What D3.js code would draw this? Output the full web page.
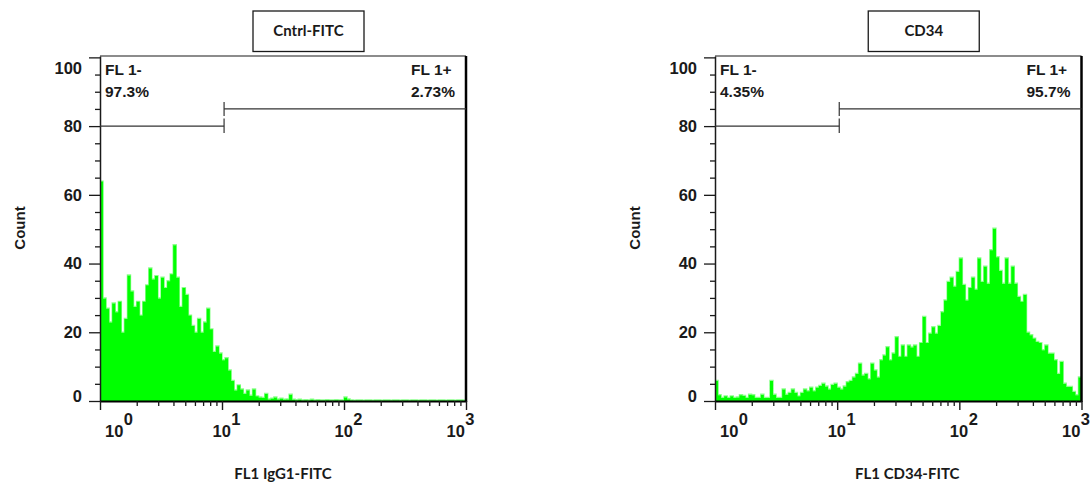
<!DOCTYPE html>
<html><head><meta charset="utf-8">
<script src="https://cdn.jsdelivr.net/npm/d3@7/dist/d3.min.js"></script>
<style>body{margin:0;background:#fff}svg{display:block}</style>
</head><body>
<svg id="c" width="1091" height="486"></svg>
<script>
// ---------- data ----------
const panelTitles = ["Cntrl-FITC", "CD34"];
const xAxisTitles = ["FL1 IgG1-FITC", "FL1 CD34-FITC"];
const yAxisTitle = "Count";
const xTickValues = [1, 10, 100, 1000];
const xTickExponents = ["0", "1", "2", "3"];
const yTickValues = [0, 20, 40, 60, 80, 100];
const gateNames = ["FL 1-", "FL 1+"];
const gateNegPercent = ["97.3%", "4.35%"];
const gatePosPercent = ["2.73%", "95.7%"];
const gateBoundary = 10.4;
const gateNegLevel = 80;
const gatePosLevel = 85;

// 120 log-spaced channels across 10^0 .. 10^3
const ctrlCounts = [
  64,30,27,23,28.5,26,29,20,24,36.7,
  32,27.5,29,25,29,33.8,38.7,35.5,36.5,30,
  36,33,35,37,45.5,36,27.5,33,31,25,
  22,20,24,20,23,27,21,14.4,16,14,
  12,12.6,9,6,3.2,4.7,3.5,2.2,3.2,1.7,
  3.5,1.5,1.2,1,2.2,0.6,0.8,1.2,0.6,0.8,
  0.5,0.6,2,0.5,0.4,0.5,0.3,0.4,0.3,0.5,
  0.3,0.4,0.3,0.3,0.4,0.3,0.3,0.4,0.3,0.3,
  1.2,0.6,0.3,0.2,0.3,0.3,0.2,0.3,0.3,0.2,
  0.3,0.3,0.2,0.3,0.3,0.2,0.3,0.3,0.2,0.3,
  0.3,0.2,0.3,0.3,0.2,0.3,0.3,0.2,0.3,0.3,
  0.2,0.3,0.3,0.2,0.3,0.3,0.2,0.3,0.3,0.2
];
const cd34Counts = [
  6,1.8,1,1.5,1,1.5,1,1.2,1.8,1.6,
  1,2,1.8,1,1,2,1,1,6,2,
  1,1,3.5,2,2.5,3.5,2.5,1.5,2.5,3.5,
  3,4,3,4,4.5,5.2,4.4,3.5,4.8,5.2,
  4,3.5,4.4,5.6,6,7,8,11,7.6,8,
  6.5,11,9,7,12,13.4,15.8,12,14,18.7,
  13,16.3,13,16.3,15.7,16.3,13,17,24.6,17,
  19.7,21.6,19.7,22,26,29.4,34.8,36,33.4,37.7,
  41.6,33.9,29.4,33,36,32.5,41.6,34.8,39.2,34.3,
  44,50.3,42,38,34.3,41.6,34.3,39.2,34.3,30.4,
  29,31,20,19.3,18.3,17.3,17,14.9,16.3,13.9,
  13.9,12,8,11.5,5.2,4.2,4.2,2.8,1.8,7
];
const panelCounts = [ctrlCounts, cd34Counts];

// ---------- layout ----------
const layout = [
  {left: 100, right: 466, xTitleDx: 0},
  {left: 715, right: 1081.5, xTitleDx: 9}
];
const plotTop = 56, plotBottom = 401;
const numFont = "'Liberation Sans', Arial, sans-serif";
const titleFont = "Lato, 'Open Sans', sans-serif";
const ink = "#1a1a1a";

const svg = d3.select("#c");

panelCounts.forEach((counts, k) => {
  const L = layout[k];
  const x = d3.scaleLog().domain([1, 1000]).range([L.left, L.right]);
  const y = d3.scaleLinear().domain([0, 100.4]).range([plotBottom, plotTop]);
  const g = svg.append("g");
  const N = counts.length;
  const edge = i => Math.pow(10, 3 * i / N);

  // pale halo of the bars (drawn first so the solid fill sits on top)
  const steps = counts.map((d, i) => [edge(i), d]).concat([[1000, counts[N - 1]]]);
  g.append("path").datum(steps)
    .attr("d", d3.line().x(d => x(d[0])).y(d => y(d[1])).curve(d3.curveStepAfter))
    .attr("fill", "none").attr("stroke", "#8cff8c").attr("stroke-width", 1.4);
  // histogram as one solid step area
  g.append("path").datum(steps)
    .attr("d", d3.area().x(d => x(d[0])).y0(plotBottom).y1(d => y(d[1]) + 0.5).curve(d3.curveStepAfter))
    .attr("fill", "#00ff00");

  // frame: top + right
  g.append("line").attr("x1", L.left).attr("x2", L.right).attr("y1", plotTop).attr("y2", plotTop)
    .attr("stroke", ink).attr("stroke-width", 1.2);
  g.append("line").attr("x1", L.right).attr("x2", L.right).attr("y1", plotTop).attr("y2", plotBottom + 1)
    .attr("stroke", "#000").attr("stroke-width", 2.5);

  // y axis
  const yMinor = d3.range(5, 100, 5).filter(v => v % 20 !== 0);
  const yAxisG = g.append("g").attr("transform", `translate(${L.left},0)`)
    .call(d3.axisLeft(y).tickValues(yTickValues).tickSize(11).tickSizeOuter(0).tickFormat(""));
  g.append("g").attr("transform", `translate(${L.left},0)`)
    .call(d3.axisLeft(y).tickValues(yMinor).tickSize(5).tickSizeOuter(0).tickFormat(""))
    .select(".domain").remove();
  yAxisG.select(".domain").attr("stroke", ink).attr("stroke-width", 1.5);
  g.selectAll(".tick line").attr("stroke", ink).attr("stroke-width", 1.3);

  g.append("g").selectAll("text").data(yTickValues).join("text")
    .attr("x", L.left - 18)
    .attr("y", d => y(d) + (d === 100 ? 11 : d === 0 ? -5 : 0))
    .attr("dy", "0.36em")
    .attr("text-anchor", "end")
    .attr("font-family", numFont).attr("font-weight", "bold").attr("font-size", 16.5)
    .attr("fill", ink)
    .text(d => d);

  // x axis
  const xMinor = [];
  [1, 10, 100].forEach(dec => d3.range(2, 10).forEach(m => xMinor.push(dec * m)));
  const xAxisG = g.append("g").attr("transform", `translate(0,${plotBottom})`)
    .call(d3.axisBottom(x).tickValues(xTickValues).tickSize(9).tickSizeOuter(0).tickFormat(""));
  const xMinorG = g.append("g").attr("transform", `translate(0,${plotBottom})`)
    .call(d3.axisBottom(x).tickValues(xMinor).tickSize(5).tickSizeOuter(0).tickFormat(""));
  xMinorG.select(".domain").remove();
  xAxisG.select(".domain").attr("stroke", "#000").attr("stroke-width", 2);
  xAxisG.selectAll(".tick line").attr("stroke", ink).attr("stroke-width", 1.4);
  xMinorG.selectAll(".tick line").attr("stroke", ink).attr("stroke-width", 1.3);

  const last = xTickValues.length - 1;
  const xl = g.append("g").selectAll("text").data(xTickValues).join("text")
    .attr("x", (d, i) => x(d) + (i === 0 ? 5 : i === last ? -19.5 : -9.5))
    .attr("y", 436.7)
    .attr("font-family", numFont).attr("font-weight", "bold").attr("font-size", 16.5)
    .attr("fill", ink);
  xl.append("tspan").text("10");
  xl.append("tspan").attr("dy", -11.7).attr("dx", 0.5).text((d, i) => xTickExponents[i]);

  // gates
  const gx = x(gateBoundary);
  const gateStroke = "#333";
  g.append("line").attr("x1", L.left).attr("x2", gx).attr("y1", y(gateNegLevel)).attr("y2", y(gateNegLevel))
    .attr("stroke", gateStroke).attr("stroke-width", 1.2);
  g.append("line").attr("x1", gx).attr("x2", gx).attr("y1", y(gateNegLevel) - 7.5).attr("y2", y(gateNegLevel) + 7)
    .attr("stroke", gateStroke).attr("stroke-width", 1.2);
  g.append("line").attr("x1", gx).attr("x2", L.right).attr("y1", y(gatePosLevel)).attr("y2", y(gatePosLevel))
    .attr("stroke", gateStroke).attr("stroke-width", 1.2);
  g.append("line").attr("x1", gx).attr("x2", gx).attr("y1", y(gatePosLevel) - 7).attr("y2", y(gatePosLevel) + 7)
    .attr("stroke", gateStroke).attr("stroke-width", 1.2);

  const gateText = (tx, lines) => {
    lines.forEach((s, j) => {
      g.append("text").attr("x", tx).attr("y", 75 + j * 21.5)
        .attr("font-family", numFont).attr("font-weight", "bold").attr("font-size", 15.5)
        .attr("fill", ink).text(s);
    });
  };
  gateText(L.left + 5, [gateNames[0], gateNegPercent[k]]);
  gateText(L.right - 55, [gateNames[1], gatePosPercent[k]]);

  // title box
  const cx = (L.left + L.right) / 2 + 25.5;
  g.append("rect").attr("x", cx - 55.5).attr("y", 11).attr("width", 111).attr("height", 40.5)
    .attr("fill", "#fff").attr("stroke", ink).attr("stroke-width", 1.3);
  g.append("text").attr("x", cx).attr("y", 31).attr("dy", "0.35em").attr("text-anchor", "middle")
    .attr("font-family", titleFont).attr("font-weight", "bold").attr("font-size", 15)
    .attr("fill", ink).text(panelTitles[k]);

  // axis titles
  g.append("text")
    .attr("transform", `translate(${L.left - 80},228) rotate(-90)`)
    .attr("dy", "0.35em").attr("text-anchor", "middle")
    .attr("font-family", numFont).attr("font-weight", "bold").attr("font-size", 15)
    .attr("fill", ink).text(yAxisTitle);
  g.append("text")
    .attr("x", (L.left + L.right) / 2 + L.xTitleDx).attr("y", 478.5)
    .attr("text-anchor", "middle")
    .attr("font-family", titleFont).attr("font-weight", "bold").attr("font-size", 15)
    .attr("fill", ink).text(xAxisTitles[k]);
});
</script>
</body></html>
